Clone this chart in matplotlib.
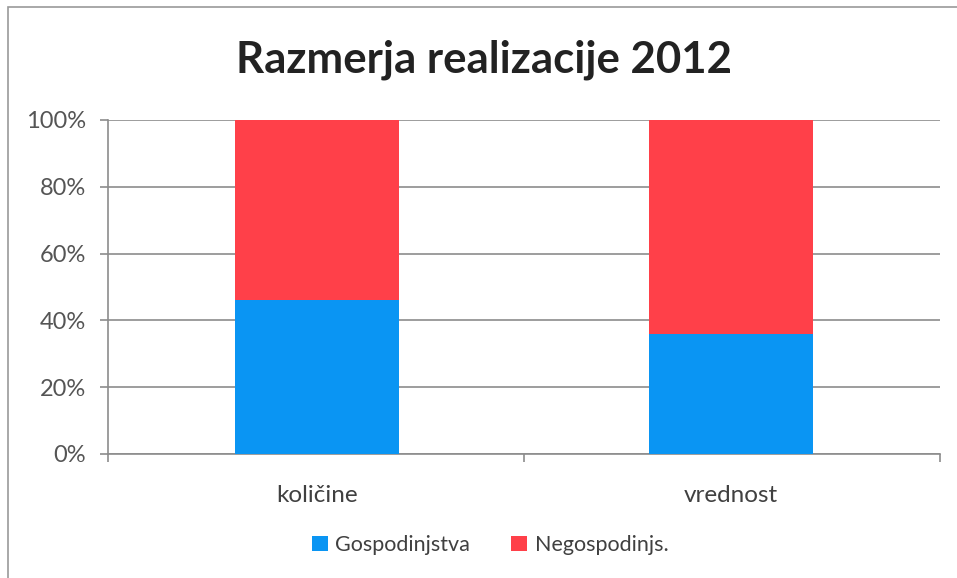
import matplotlib
matplotlib.use("Agg")
import matplotlib.pyplot as plt
from matplotlib.patches import Rectangle
from matplotlib.ticker import FixedLocator, PercentFormatter

categories = ["količine", "vrednost"]
gospodinjstva = [46, 36]
negospodinjs = [54, 64]
series_names = ["Gospodinjstva", "Negospodinjs."]
yticks = [0, 20, 40, 60, 80, 100]

blue = "#0A95F3"
red = "#FF4049"
text_col = "#404040"
grid_col = "#8C8C8C"

plt.rcParams["font.family"] = ["Lato", "DejaVu Sans"]

fig = plt.figure(figsize=(9.57, 5.78), dpi=100)
ax = fig.add_axes([108 / 957, 1 - 454 / 578, 832 / 957, 334 / 578])

x = [0, 1]
ax.bar(x, gospodinjstva, width=0.395, color=blue, label=series_names[0], zorder=3)
ax.bar(x, negospodinjs, width=0.395, bottom=gospodinjstva, color=red,
       label=series_names[1], zorder=3)

ax.set_xlim(-0.505, 1.505)
ax.set_ylim(0, 100)
ax.yaxis.set_major_locator(FixedLocator(yticks))
ax.yaxis.set_major_formatter(PercentFormatter(decimals=0))
ax.grid(axis="y", color=grid_col, linewidth=1.2, zorder=0)

for s in ["top", "right"]:
    ax.spines[s].set_visible(False)
for s in ["left", "bottom"]:
    ax.spines[s].set_color(grid_col)
    ax.spines[s].set_linewidth(1.2)

ax.set_xticks(x)
ax.set_xticklabels(categories)
ax.set_xticks([-0.505, 0.5, 1.505], minor=True)
ax.tick_params(axis="x", which="major", length=0, pad=22, labelsize=17.5, labelcolor=text_col)
ax.tick_params(axis="x", which="minor", length=6, color=grid_col, width=1.2)
ax.tick_params(axis="y", length=6, color=grid_col, width=1.2, pad=10,
               labelsize=17, labelcolor="#555555")

fig.text(484 / 957, 1 - 60 / 578, "Razmerja realizacije 2012", ha="center", va="center",
         fontsize=31.5, fontweight="bold", color="#222222")

handles, labels = ax.get_legend_handles_labels()
fig.legend(handles, labels, loc="center", bbox_to_anchor=(490 / 957, 1 - 545 / 578),
           ncol=2, frameon=False, fontsize=15.5, handlelength=0.75, handleheight=0.75,
           handletextpad=0.35, columnspacing=1.9, labelcolor=text_col)

# chart frame
fig.patches.append(Rectangle((8 / 957, -0.05), 1.2, 1.05 - 7 / 578,
                             transform=fig.transFigure, fill=False,
                             edgecolor="#9A9A9A", linewidth=1.2))

fig.savefig("out.png", dpi=100)
